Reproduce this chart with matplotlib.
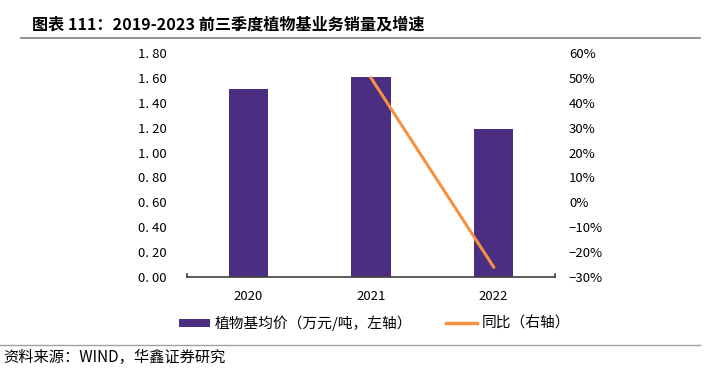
import matplotlib
matplotlib.use("Agg")
import matplotlib.pyplot as plt
from matplotlib.lines import Line2D
from matplotlib.patches import Patch

plt.rcParams['font.family'] = ['Noto Sans CJK SC', 'DejaVu Sans']

# data
years = ["2020", "2021", "2022"]
avg_price = [1.51, 1.61, 1.19]          # 万元/吨, left axis
yoy_years = ["2021", "2022"]
yoy = [50.0, -26.0]                       # %, right axis

left_ticks = [0.0, 0.2, 0.4, 0.6, 0.8, 1.0, 1.2, 1.4, 1.6, 1.8]
right_ticks = [-30, -20, -10, 0, 10, 20, 30, 40, 50, 60]

purple = "#4B2D82"
orange = "#F7913F"

fig = plt.figure(figsize=(7.21, 3.71), dpi=100)
ax = fig.add_axes([187 / 721, 1 - 277 / 371, 368 / 721, 224 / 371])

x = list(range(len(years)))
ax.bar(x, avg_price, width=0.32, color=purple, zorder=2)
ax.set_xlim(-0.5, len(years) - 0.5)
ax.set_ylim(0, 1.8)
ax.set_yticks(left_ticks)
ax.set_yticklabels([f"{v:.2f}".replace(".", ". ") for v in left_ticks], fontsize=9.5)
ax.set_xticks(x)
ax.set_xticklabels(years, fontsize=9.5)
ax.tick_params(axis="x", length=0, pad=9)
ax.tick_params(axis="y", length=0, pad=35.5)
for lbl in ax.get_yticklabels():
    lbl.set_horizontalalignment("left")
for s in ["top", "right", "left"]:
    ax.spines[s].set_visible(False)
ax.spines["bottom"].set_color("#404040")
ax.spines["bottom"].set_linewidth(1.2)
# small end ticks on the category axis
for xe in (-0.5, len(years) - 0.5):
    ax.plot([xe, xe], [0, 0.025], color="#404040", lw=1.2, clip_on=False, zorder=3)

ax2 = ax.twinx()
xi = [years.index(y) for y in yoy_years]
ax2.plot(xi, yoy, color=orange, lw=2.2, zorder=4)
ax2.set_ylim(-30, 60)
ax2.set_yticks(right_ticks)
ax2.set_yticklabels([f"{v}%".replace("-", "\u2212") for v in right_ticks], fontsize=9.5)
ax2.tick_params(axis="y", length=0, pad=10)
for s in ["top", "right", "left", "bottom"]:
    ax2.spines[s].set_visible(False)

# title, rules, legend, source
fig.text(32 / 721, 1 - 24 / 371, "图表 111：2019-2023 前三季度植物基业务销量及增速",
         fontsize=11.6, fontweight="bold", va="center", ha="left")
fig.add_artist(Line2D([21 / 721, 700 / 721], [1 - 38 / 371] * 2, color="#808080", lw=1.2))
fig.add_artist(Line2D([0, 700 / 721], [1 - 345 / 371] * 2, color="#A0A0A0", lw=1.0))

handles = [Patch(facecolor=purple, edgecolor="none"),
           Line2D([0], [0], color=orange, lw=2.5)]
fig.legend(handles, ["植物基均价（万元/吨，左轴）", "同比（右轴）"],
           loc="center left", bbox_to_anchor=(175 / 721, 1 - 323 / 371), ncol=2,
           frameon=False, fontsize=10.6, handlelength=2.1, handleheight=0.45,
           columnspacing=2.3, handletextpad=0.3, borderaxespad=0, borderpad=0.3)

fig.text(3 / 721, 1 - 357 / 371, "资料来源：WIND，华鑫证券研究", fontsize=11,
         va="center", ha="left")

fig.savefig("out.png", dpi=100)
